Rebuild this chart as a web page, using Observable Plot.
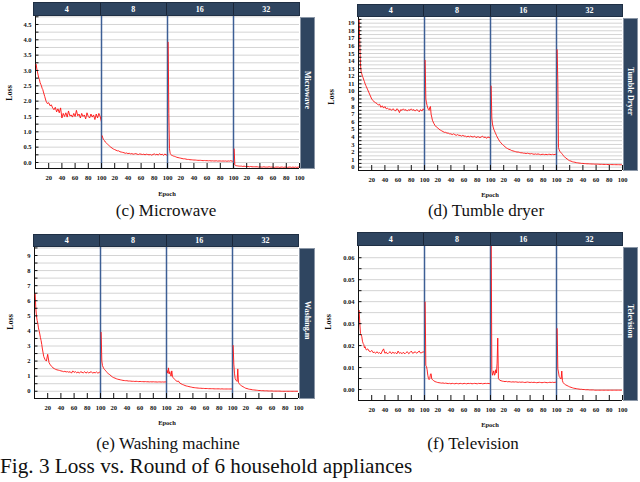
<!DOCTYPE html>
<html>
<head>
<meta charset="utf-8">
<script src="https://cdn.jsdelivr.net/npm/d3@7"></script>
<script src="https://cdn.jsdelivr.net/npm/@observablehq/plot@0.6"></script>
<style>
  html, body { margin: 0; padding: 0; background: #fff; }
  #page { position: relative; width: 640px; height: 482px; overflow: hidden; font-family: "Liberation Serif", "DejaVu Serif", serif; }
  .abs { position: absolute; }
  .head { display: flex; background: #2f4560; box-sizing: border-box; border: 1px solid #1f2f44; }
  .head div { flex: 1; color: #fff; font-weight: bold; font-size: 8px; display: flex; align-items: center; justify-content: center; border-left: 1px solid #1a2638; }
  .head div:first-child { border-left: none; }
  .box { background: #2f4560; box-sizing: border-box; border: 1px solid #8a96a6; display: flex; align-items: center; justify-content: center; }
  .box span { writing-mode: vertical-rl; color: #fff; font-weight: bold; font-size: 8px; white-space: nowrap; transform: translateY(-3px); }
  .loss { font-weight: bold; font-size: 8px; color: #111; transform: translate(-50%, -50%) rotate(-90deg); white-space: nowrap; }
  .epoch { font-weight: bold; font-size: 6.5px; color: #111; transform: translate(-50%, -50%); white-space: nowrap; }
  .cap { font-size: 17px; color: #111; transform: translate(-50%, -50%); white-space: nowrap; }
  .fig { font-size: 20px; color: #111; white-space: nowrap; transform: scaleX(1.06); transform-origin: 0 0; }
</style>
</head>
<body>
<div id="page"></div>
<script>
// ---------- shared categories / ticks ----------
const batches = [4, 8, 16, 32];
const epochs = [1,2,3,4,5,6,7,8,9,10,11,12,
  14,16,18,20,22,24,26,28,30,32,34,
  36,38,40,42,44,46,48,50,52,54,56,
  58,60,62,64,66,68,70,72,74,76,78,
  80,82,84,86,88,90,92,94,96,98,100];
const xTicks = [20, 40, 60, 80, 100];
const xDomain = [0, 100];

// ---------- Microwave ----------
const microwaveB4 = [3.2,3.05,2.95,2.85,2.75,2.7,2.6,2.55,2.5,2.42,2.38,2.3,
  2.15,2.0,1.92,1.95,1.85,1.88,1.78,1.72,1.8,1.65,1.75,
  1.62,1.78,1.45,1.6,1.5,1.62,1.48,1.68,1.52,1.55,1.48,
  1.6,1.5,1.7,1.52,1.58,1.45,1.6,1.5,1.55,1.42,1.62,
  1.5,1.45,1.58,1.48,1.55,1.4,1.58,1.45,1.6,1.5,1.32];
const microwaveB8 = [0.87,0.8,0.75,0.72,0.7,0.66,0.64,0.62,0.6,0.58,0.56,0.54,
  0.5,0.47,0.44,0.42,0.4,0.38,0.38,0.35,0.34,0.33,0.32,
  0.3,0.31,0.29,0.3,0.28,0.29,0.27,0.28,0.29,0.27,0.26,
  0.28,0.27,0.26,0.27,0.25,0.27,0.26,0.25,0.26,0.24,0.26,
  0.28,0.25,0.27,0.24,0.29,0.25,0.27,0.23,0.28,0.24,0.26];
const microwaveB16 = [3.92,1.6,0.45,0.3,0.26,0.24,0.23,0.22,0.21,0.2,0.2,0.19,
  0.17,0.16,0.15,0.14,0.13,0.12,0.12,0.11,0.1,0.1,0.09,
  0.09,0.085,0.08,0.08,0.075,0.07,0.07,0.07,0.065,0.06,0.065,
  0.06,0.06,0.055,0.06,0.05,0.055,0.05,0.05,0.055,0.045,0.05,
  0.05,0.045,0.05,0.045,0.05,0.04,0.05,0.045,0.06,0.04,0.045];
const microwaveB32 = [0.44,-0.08,-0.1,-0.1,-0.11,-0.11,-0.11,-0.12,-0.12,-0.12,-0.12,-0.12,
  -0.13,-0.12,-0.13,-0.13,-0.13,-0.14,-0.13,-0.14,-0.14,-0.14,-0.14,
  -0.14,-0.15,-0.14,-0.15,-0.15,-0.14,-0.15,-0.15,-0.15,-0.14,-0.15,
  -0.15,-0.15,-0.16,-0.15,-0.15,-0.15,-0.16,-0.15,-0.15,-0.16,-0.15,
  -0.15,-0.16,-0.15,-0.15,-0.16,-0.15,-0.16,-0.15,-0.16,-0.15,-0.15];
const microwaveMajor = [0,0.5,1,1.5,2,2.5,3,3.5,4,4.5];
const microwaveMinor = [0,0.25,0.5,0.75,1,1.25,1.5,1.75,2,2.25,2.5,2.75,3,3.25,3.5,3.75,4,4.25,4.5,4.75];

// ---------- Tumble dryer ----------
const tumbleB4 = [19.5,16,13.5,12.6,12.3,12.0,11.8,11.5,11.3,11.0,10.8,10.6,
  10.2,9.8,9.4,9.0,8.8,8.6,8.5,8.4,8.2,8.3,7.9,
  8.1,7.8,8.0,7.7,7.8,7.6,7.7,7.5,7.7,7.6,7.4,
  7.7,7.6,7.2,7.6,7.5,7.7,7.5,7.6,7.4,7.6,7.5,
  7.7,7.5,7.6,7.4,7.6,7.5,7.3,7.6,7.4,7.7,7.5];
const tumbleB8 = [14.1,9.0,8.5,8.1,7.8,7.6,7.5,7.9,8.0,7.0,6.6,6.2,
  5.8,5.5,5.3,5.2,5.0,4.9,4.8,4.7,4.6,4.6,4.5,
  4.5,4.4,4.4,4.3,4.4,4.3,4.2,4.3,4.2,4.2,4.1,
  4.2,4.1,4.1,4.0,4.1,4.0,4.1,4.0,4.0,4.1,3.9,
  4.0,4.0,3.9,4.0,4.1,3.9,4.0,3.8,4.0,3.9,4.0];
const tumbleB16 = [10.7,6.5,5.7,5.3,5.0,4.8,4.6,4.4,4.2,4.0,3.85,3.7,
  3.4,3.2,3.0,2.85,2.7,2.55,2.45,2.35,2.3,2.2,2.15,
  2.1,2.05,2.0,2.0,1.95,1.9,1.9,1.85,1.85,1.8,1.85,
  1.8,1.75,1.8,1.75,1.7,1.75,1.7,1.75,1.7,1.65,1.7,
  1.7,1.65,1.7,1.65,1.7,1.7,1.65,1.7,1.65,1.7,1.7];
const tumbleB32 = [15.5,11.2,2.6,2.3,2.1,2.0,1.9,1.8,1.7,1.55,1.48,1.4,
  1.2,1.1,0.95,0.85,0.8,0.72,0.68,0.65,0.6,0.58,0.55,
  0.53,0.5,0.5,0.48,0.47,0.45,0.45,0.44,0.43,0.42,0.42,
  0.4,0.4,0.4,0.39,0.38,0.38,0.37,0.37,0.36,0.36,0.35,
  0.35,0.35,0.34,0.34,0.34,0.33,0.33,0.33,0.32,0.32,0.32];
const tumbleMajor = [0,1,2,3,4,5,6,7,8,9,10,11,12,13,14,15,16,17,18,19];
const tumbleMinor = [0,0.5,1,1.5,2,2.5,3,3.5,4,4.5,5,5.5,6,6.5,7,7.5,8,8.5,9,9.5,10,10.5,11,11.5,12,12.5,13,13.5,14,14.5,15,15.5,16,16.5,17,17.5,18,18.5,19,19.5];

// ---------- Washing machine ----------
const washingB4 = [6.46,5.5,5.0,4.7,4.5,4.2,4.0,3.8,3.55,3.36,3.1,2.8,
  2.3,2.1,2.0,2.45,1.9,1.75,1.65,1.55,1.5,1.45,1.42,
  1.4,1.38,1.35,1.33,1.3,1.32,1.28,1.3,1.26,1.3,1.2,
  1.35,1.25,1.3,1.22,1.28,1.2,1.3,1.25,1.22,1.3,1.2,
  1.28,1.22,1.25,1.3,1.2,1.25,1.22,1.28,1.2,1.25,1.3];
const washingB8 = [3.9,2.0,1.7,1.6,1.5,1.45,1.4,1.35,1.3,1.25,1.2,1.15,
  1.1,1.02,0.95,0.9,0.87,0.83,0.8,0.78,0.76,0.74,0.72,
  0.71,0.7,0.7,0.68,0.68,0.67,0.66,0.66,0.65,0.66,0.65,
  0.64,0.65,0.64,0.64,0.63,0.64,0.63,0.63,0.62,0.63,0.62,
  0.63,0.62,0.62,0.61,0.62,0.62,0.61,0.62,0.61,0.62,0.62];
const washingB16 = [1.37,1.2,1.55,1.15,1.3,1.1,1.0,1.35,1.0,0.9,0.85,0.8,
  0.72,0.65,0.68,0.55,0.5,0.45,0.42,0.38,0.35,0.33,0.31,
  0.29,0.27,0.25,0.24,0.23,0.22,0.21,0.2,0.2,0.19,0.19,
  0.18,0.18,0.18,0.17,0.17,0.17,0.17,0.16,0.16,0.16,0.16,
  0.16,0.15,0.16,0.15,0.15,0.15,0.15,0.15,0.15,0.15,0.15];
const washingB32 = [3.03,1.8,1.2,0.85,0.75,0.7,0.65,1.48,0.6,0.5,0.46,0.42,
  0.35,0.3,0.25,0.2,0.18,0.15,0.13,0.12,0.1,0.09,0.08,
  0.07,0.06,0.05,0.05,0.04,0.04,0.03,0.03,0.03,0.02,0.02,
  0.02,0.02,0.01,0.01,0.01,0.01,0.01,0.01,0.0,0.0,0.0,
  0.0,0.0,0.0,0.0,0.0,0.0,0.0,0.0,0.0,0.0,0.0];
const washingMajor = [0,1,2,3,4,5,6,7,8,9];
const washingMinor = [0,0.5,1,1.5,2,2.5,3,3.5,4,4.5,5,5.5,6,6.5,7,7.5,8,8.5,9,9.5];

// ---------- Television ----------
const televisionB4 = [0.036,0.030,0.0255,0.025,0.024,0.022,0.021,0.0205,0.019,0.0195,0.0185,0.018,
  0.0185,0.0175,0.0172,0.0178,0.0168,0.017,0.0165,0.0172,0.0165,0.0168,0.0162,
  0.0175,0.0185,0.0165,0.017,0.0162,0.0168,0.0172,0.0163,0.017,0.0165,0.0168,
  0.0162,0.0175,0.0165,0.0168,0.0163,0.017,0.0162,0.0168,0.0172,0.0163,0.0168,
  0.0175,0.0165,0.0168,0.0172,0.0165,0.017,0.0175,0.0166,0.0168,0.0172,0.0167];
const televisionB8 = [0.0398,0.011,0.0105,0.009,0.0065,0.005,0.0045,0.005,0.007,0.0072,0.0048,0.0045,
  0.004,0.0036,0.0034,0.0032,0.0031,0.003,0.0029,0.003,0.0028,0.0029,0.0028,
  0.0027,0.0028,0.0026,0.0028,0.0027,0.0026,0.0028,0.0027,0.0026,0.0028,0.0027,
  0.0026,0.0028,0.0027,0.0026,0.0028,0.0027,0.0028,0.0026,0.0027,0.0028,0.0027,
  0.0026,0.0028,0.0027,0.0028,0.0026,0.0027,0.0028,0.0027,0.0028,0.0027,0.0027];
const televisionB16 = [0.075,0.009,0.0065,0.0075,0.0085,0.0065,0.007,0.009,0.0075,0.012,0.0234,0.005,
  0.0042,0.004,0.0038,0.0037,0.0036,0.0037,0.0035,0.0036,0.0035,0.0034,0.0035,
  0.0034,0.0035,0.0034,0.0033,0.0034,0.0033,0.0034,0.0033,0.0032,0.0033,0.0034,
  0.0033,0.0032,0.0033,0.0032,0.0033,0.0032,0.0031,0.0032,0.0033,0.0032,0.0031,
  0.0032,0.0033,0.0032,0.0031,0.0032,0.0033,0.0032,0.0033,0.0032,0.0033,0.0033];
const televisionB32 = [0.0277,0.0094,0.008,0.006,0.0055,0.005,0.0048,0.0084,0.004,0.0032,0.0028,0.0025,
  0.0021,0.0018,0.0015,0.0012,0.001,0.0008,0.0006,0.0005,0.0004,0.0003,0.0002,
  0.0001,0.0001,0.0,0.0,-0.0001,-0.0001,-0.0001,-0.0002,-0.0002,-0.0002,-0.0002,
  -0.0003,-0.0003,-0.0003,-0.0003,-0.0003,-0.0003,-0.0003,-0.0003,-0.0003,-0.0003,-0.0003,
  -0.0003,-0.0003,-0.0003,-0.0003,-0.0003,-0.0003,-0.0003,-0.0003,-0.0003,-0.0003,-0.0003];
const televisionMajor = [0,0.01,0.02,0.03,0.04,0.05,0.06];
const televisionMinor = [0,0.005,0.01,0.015,0.02,0.025,0.03,0.035,0.04,0.045,0.05,0.055,0.06];

// ---------- text ----------
const figCaption = "Fig. 3 Loss vs. Round of 6 household appliances";

// ---------- layout (page pixels) ----------
const panels = [
  {series: [microwaveB4, microwaveB8, microwaveB16, microwaveB32], major: microwaveMajor, minor: microwaveMinor,
   yDomain: [-0.196, 4.76], fmt: d3.format(".1f"), label: "Microwave", caption: "(c) Microwave",
   plotX0: 33, plotX1: 300, headTop: 2, plotTop: 16, plotBottom: 168, boxX1: 315,
   lossX: 9, lossY: 93, epochX: 167, epochY: 193, capX: 166, capY: 211},
  {series: [tumbleB4, tumbleB8, tumbleB16, tumbleB32], major: tumbleMajor, minor: tumbleMinor,
   yDomain: [-0.435, 19.75], fmt: d3.format("d"), label: "Tumble Dryer", caption: "(d) Tumble dryer",
   plotX0: 357, plotX1: 623, headTop: 4, plotTop: 17, plotBottom: 170, boxX1: 638,
   lossX: 331, lossY: 97, epochX: 490, epochY: 194, capX: 486, capY: 211},
  {series: [washingB4, washingB8, washingB16, washingB32], major: washingMajor, minor: washingMinor,
   yDomain: [-0.48, 9.53], fmt: d3.format("d"), label: "Washing.m", caption: "(e) Washing machine",
   plotX0: 33, plotX1: 299, headTop: 234, plotTop: 247, plotBottom: 398, boxX1: 315,
   lossX: 10, lossY: 322, epochX: 167, epochY: 422, capX: 168, capY: 444},
  {series: [televisionB4, televisionB8, televisionB16, televisionB32], major: televisionMajor, minor: televisionMinor,
   yDomain: [-0.005, 0.0651], fmt: d3.format(".2f"), label: "Television", caption: "(f) Television",
   plotX0: 357, plotX1: 623, headTop: 232, plotTop: 246, plotBottom: 400, boxX1: 638,
   lossX: 328, lossY: 322, epochX: 490, epochY: 424, capX: 473, capY: 444}
];

const page = document.getElementById("page");
function el(cls, css, html) {
  const d = document.createElement("div");
  d.className = "abs " + cls;
  Object.assign(d.style, css);
  if (html != null) d.innerHTML = html;
  page.appendChild(d);
  return d;
}

const mL = 33, mR = 10, mT = 4, mB = 20;

panels.forEach(p => {
  const rows = [];
  p.series.forEach((vals, i) => vals.forEach((v, j) => rows.push({batch: batches[i], epoch: epochs[j], loss: v})));
  const plotW = p.plotX1 - p.plotX0, plotH = p.plotBottom - p.plotTop;
  const chart = Plot.plot({
    width: plotW + mL + mR,
    height: plotH + mT + mB,
    marginLeft: mL, marginRight: mR, marginTop: mT, marginBottom: mB,
    style: {fontFamily: "Liberation Serif", fontWeight: "bold", fontSize: "6.5px", color: "#111", background: "transparent", overflow: "visible"},
    fx: {domain: batches, padding: 0, axis: null, label: null},
    x: {domain: xDomain, axis: null, label: null},
    y: {domain: p.yDomain, axis: null, label: null},
    marks: [
      Plot.gridY(p.minor, {stroke: "#d4d4d4", strokeOpacity: 1, strokeWidth: 1}),
      Plot.ruleX(batches.slice(1), {fx: d => d, x: xDomain[0], stroke: "#3d5f95", strokeWidth: 1.5}),
      Plot.ruleX(batches.slice(0, 1), {fx: d => d, x: xDomain[0], stroke: "#111", strokeWidth: 1}),
      Plot.ruleY([p.yDomain[0]], {stroke: "#111", strokeWidth: 1}),
      Plot.lineY(rows, {fx: "batch", x: "epoch", y: "loss", stroke: "#ff1010", strokeWidth: 0.9, clip: true}),
      Plot.axisY(p.minor, {anchor: "left", label: null, tickSize: 3.5, dx: 3.5, tickFormat: () => "", stroke: "#111"}),
      Plot.axisY(p.major, {anchor: "left", label: null, tickSize: 0, tickPadding: 4, tickFormat: p.fmt, fill: "#111"}),
      Plot.axisX(xTicks, {anchor: "bottom", label: null, tickSize: 5, dy: -5, tickFormat: () => "", stroke: "#111"}),
      Plot.axisX(xTicks, {anchor: "bottom", label: null, tickSize: 0, tickPadding: 7, fill: "#111"})
    ]
  });
  chart.style.position = "absolute";
  chart.style.left = (p.plotX0 - mL) + "px";
  chart.style.top = (p.plotTop - mT) + "px";
  page.appendChild(chart);

  // strip header
  const head = el("head", {left: p.plotX0 + "px", top: p.headTop + "px", width: plotW + "px", height: (p.plotTop - p.headTop) + "px"});
  batches.forEach(b => { const c = document.createElement("div"); c.textContent = b; head.appendChild(c); });
  // right strip
  el("box", {left: p.plotX1 + "px", top: (p.plotTop + 1) + "px", width: (p.boxX1 - p.plotX1) + "px", height: plotH + "px"}, "<span>" + p.label + "</span>");
  el("loss", {left: p.lossX + "px", top: p.lossY + "px"}, "Loss");
  el("epoch", {left: p.epochX + "px", top: p.epochY + "px"}, "Epoch");
  el("cap", {left: p.capX + "px", top: p.capY + "px"}, p.caption);
});
el("fig", {left: "0px", top: "455px"}, figCaption);
</script>
</body>
</html>
